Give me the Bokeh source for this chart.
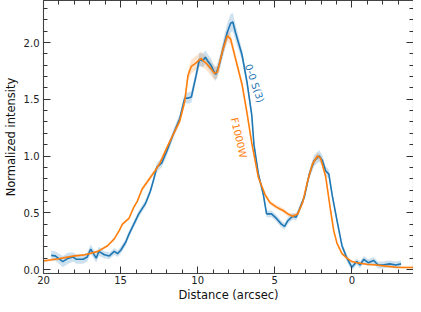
import math
from bokeh.plotting import figure
from bokeh.models import (Range1d, SingleIntervalTicker, LinearAxis, NumeralTickFormatter,
                          CustomJSTickFormatter)
from bokeh.core.properties import value
from bokeh.embed import file_html
from bokeh.resources import INLINE

# ---- data ----
blue_x = [19.5, 19.24, 18.75, 18.39, 18.07, 17.86, 17.43, 17.16, 16.94, 16.58,
          16.41, 16.05, 15.73, 15.41, 15.2, 14.99, 14.67, 14.46, 14.14, 13.82,
          13.39, 13.07, 12.86, 12.65, 12.33, 12.01, 11.59, 11.16, 10.84, 10.63,
          10.41, 10.1, 9.89, 9.67, 9.5, 9.36, 9.14, 8.93, 8.82, 8.61,
          8.29, 8.08, 7.86, 7.72, 7.55, 7.12, 6.8, 6.49, 6.35, 6.06,
          5.74, 5.53, 5.21, 4.89, 4.57, 4.36, 4.15, 3.83, 3.61, 3.4,
          3.08, 2.76, 2.44, 2.12, 1.91, 1.7, 1.49, 1.28, 0.96, 0.64,
          0.32, 0.0, -0.32, -0.53, -0.78, -1.06, -1.42, -1.7, -2.02, -2.44,
          -2.87, -3.19]
blue_y = [0.125, 0.12, 0.07, 0.10, 0.11, 0.09, 0.09, 0.11, 0.18, 0.10,
          0.16, 0.13, 0.12, 0.16, 0.14, 0.17, 0.24, 0.31, 0.40, 0.49,
          0.58, 0.69, 0.79, 0.90, 0.94, 1.04, 1.19, 1.33, 1.51, 1.51,
          1.52, 1.71, 1.85, 1.84, 1.87, 1.84, 1.80, 1.74, 1.72, 1.80,
          1.98, 2.09, 2.17, 2.18, 2.09, 1.89, 1.65, 1.36, 1.10, 0.84,
          0.66, 0.49, 0.49, 0.45, 0.40, 0.38, 0.43, 0.47, 0.46, 0.53,
          0.64, 0.84, 0.96, 1.00, 0.96, 0.87, 0.84, 0.66, 0.43, 0.21,
          0.10, 0.02, 0.07, 0.04, 0.09, 0.06, 0.08, 0.04, 0.04, 0.05,
          0.04, 0.05]
blue_err = [0.04, 0.04, 0.05, 0.05, 0.04, 0.04, 0.04, 0.04, 0.04, 0.04,
            0.04, 0.03, 0.03, 0.03, 0.03, 0.03, 0.03, 0.03, 0.03, 0.03,
            0.03, 0.03, 0.03, 0.04, 0.04, 0.04, 0.04, 0.04, 0.04, 0.05,
            0.05, 0.05, 0.06, 0.06, 0.06, 0.06, 0.06, 0.06, 0.06, 0.06,
            0.07, 0.08, 0.08, 0.08, 0.07, 0.05, 0.04, 0.04, 0.04, 0.03,
            0.03, 0.03, 0.03, 0.03, 0.03, 0.03, 0.03, 0.03, 0.03, 0.03,
            0.03, 0.04, 0.05, 0.05, 0.05, 0.04, 0.04, 0.03, 0.03, 0.03,
            0.03, 0.03, 0.03, 0.03, 0.03, 0.03, 0.03, 0.03, 0.03, 0.03,
            0.03, 0.03]

orange_x = [20.3, 19.0, 17.97, 17.3, 16.47, 15.84, 15.41, 15.1, 14.88, 14.46,
            14.14, 13.92, 13.6, 13.07, 12.76, 12.44, 12.01, 11.48, 11.16, 10.84,
            10.63, 10.41, 10.1, 9.78, 9.57, 9.46, 9.14, 8.93, 8.72, 8.4,
            8.08, 7.86, 7.55, 7.12, 6.8, 6.5, 6.06, 5.63, 5.31, 4.89,
            4.46, 4.15, 3.83, 3.51, 3.19, 2.87, 2.55, 2.23, 2.02, 1.7,
            1.59, 1.38, 1.17, 0.96, 0.64, 0.32, 0.0, -0.32, -0.96, -1.6,
            -2.23, -2.87, -3.5, -4.0]
orange_y = [0.07, 0.095, 0.12, 0.13, 0.16, 0.21, 0.27, 0.34, 0.40, 0.45,
            0.55, 0.60, 0.71, 0.81, 0.87, 0.94, 1.07, 1.22, 1.31, 1.48,
            1.71, 1.79, 1.82, 1.86, 1.83, 1.82, 1.77, 1.73, 1.74, 1.92,
            2.06, 2.03, 1.86, 1.63, 1.38, 1.12, 0.81, 0.66, 0.59, 0.55,
            0.52, 0.49, 0.47, 0.49, 0.59, 0.78, 0.93, 1.00, 0.98, 0.82,
            0.72, 0.52, 0.34, 0.23, 0.14, 0.10, 0.07, 0.06, 0.046, 0.04,
            0.03, 0.02, 0.018, 0.018]
orange_err = [0.01, 0.01, 0.01, 0.01, 0.01, 0.01, 0.01, 0.01, 0.01, 0.01,
              0.01, 0.01, 0.02, 0.02, 0.02, 0.02, 0.02, 0.02, 0.03, 0.04,
              0.05, 0.06, 0.06, 0.06, 0.06, 0.06, 0.06, 0.06, 0.05, 0.05,
              0.05, 0.05, 0.04, 0.03, 0.02, 0.02, 0.02, 0.02, 0.02, 0.02,
              0.02, 0.02, 0.02, 0.02, 0.02, 0.02, 0.03, 0.03, 0.03, 0.02,
              0.02, 0.02, 0.01, 0.01, 0.01, 0.01, 0.01, 0.01, 0.01, 0.01,
              0.01, 0.01, 0.01, 0.01]

series_labels = ["0-0 S(3)", "F1000W"]
label_x = [6.31, 7.33]
label_y = [1.64, 1.16]

BLUE = "#1f77b4"
ORANGE = "#ff7f0e"
FONT = "DejaVu Sans"
AX = "#444444"

p = figure(width=413, height=304, output_backend="svg", toolbar_location=None,
           x_range=Range1d(20, -4), y_range=Range1d(-0.035, 2.37),
           min_border_left=0, min_border_right=0, min_border_top=0, min_border_bottom=0)
p.grid.visible = False
p.outline_line_color = None
p.background_fill_color = "white"

def style_axis(ax, show_labels=True):
    ax.axis_line_color = AX
    ax.axis_line_width = 1.1
    ax.major_tick_line_color = "#333333"
    ax.minor_tick_line_color = "#333333"
    ax.major_tick_in = 7
    ax.major_tick_out = 0
    ax.minor_tick_in = 4
    ax.minor_tick_out = 0
    ax.major_label_text_font = FONT
    ax.major_label_text_color = "#222222"
    ax.axis_label_text_font = FONT
    ax.axis_label_text_font_style = "normal"
    ax.axis_label_text_color = "#111111"
    ax.major_label_text_font_size = "10px"
    ax.axis_label_text_font_size = "11.5px"
    if not show_labels:
        ax.formatter = CustomJSTickFormatter(code="return ''")
        ax.major_label_standoff = 0
        ax.axis_label = None

p.xaxis.ticker = SingleIntervalTicker(interval=5, num_minor_ticks=5)
p.yaxis.ticker = SingleIntervalTicker(interval=0.5, num_minor_ticks=5)
p.yaxis.formatter = NumeralTickFormatter(format="0.0")
p.xaxis.axis_label = "Distance (arcsec)"
p.yaxis.axis_label = "Normalized intensity"
style_axis(p.xaxis[0])
style_axis(p.yaxis[0])
p.xaxis.major_label_standoff = 2
p.yaxis.major_label_standoff = 4
p.xaxis.axis_label_standoff = 1
p.yaxis.axis_label_standoff = 3

top = LinearAxis(ticker=SingleIntervalTicker(interval=5, num_minor_ticks=5))
right = LinearAxis(ticker=SingleIntervalTicker(interval=0.5, num_minor_ticks=5))
style_axis(top, False)
style_axis(right, False)
p.add_layout(top, "above")
p.add_layout(right, "right")

blue_lo = [y - e for y, e in zip(blue_y, blue_err)]
blue_hi = [y + e for y, e in zip(blue_y, blue_err)]
orange_lo = [y - e for y, e in zip(orange_y, orange_err)]
orange_hi = [y + e for y, e in zip(orange_y, orange_err)]

p.varea(x=orange_x, y1=orange_lo, y2=orange_hi, fill_color=ORANGE, fill_alpha=0.2)
p.varea(x=blue_x, y1=blue_lo, y2=blue_hi, fill_color=BLUE, fill_alpha=0.22)
p.line(blue_x, blue_y, line_color=BLUE, line_width=1.6)
p.line(orange_x, orange_y, line_color=ORANGE, line_width=1.6)

p.text(x=[label_x[0]], y=[label_y[0]], text=[series_labels[0]], angle=math.radians(-71),
       text_color=BLUE, text_font=value(FONT), text_font_size="10px",
       text_align="center", text_baseline="middle")
p.text(x=[label_x[1]], y=[label_y[1]], text=[series_labels[1]], angle=math.radians(-77),
       text_color=ORANGE, text_font=value(FONT), text_font_size="10px",
       text_align="center", text_baseline="middle")

open("out.html", "w").write(file_html(p, INLINE))
